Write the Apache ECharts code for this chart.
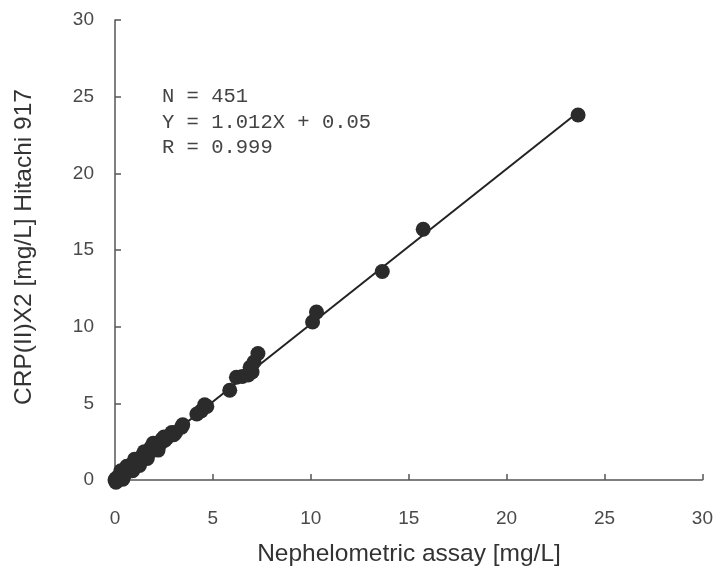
<!DOCTYPE html>
<html>
<head>
<meta charset="utf-8">
<script src="https://cdn.jsdelivr.net/npm/echarts@6/dist/echarts.min.js"></script>
<style>
html,body{margin:0;padding:0;background:#fff;}
#c{width:716px;height:570px;}
</style>
</head>
<body>
<div id="c"></div>
<script>
// Axis ticks
var xTicks = [0, 5, 10, 15, 20, 25, 30];
var yTicks = [0, 5, 10, 15, 20, 25, 30];

// Measured points [Nephelometric, CRP(II)X2]
var clusterLow = [
  [0.0,0.0],[0.05,0.1],[0.1,0.05],[0.15,0.2],[0.2,0.1],[0.25,0.3],[0.3,0.2],
  [0.35,0.4],[0.4,0.3],[0.45,0.55],[0.5,0.4],[0.55,0.65],[0.6,0.5],[0.65,0.75],
  [0.7,0.6],[0.75,0.85],[0.8,0.75],[0.85,1.0],[0.9,0.85],[0.95,1.1],[1.0,0.95],
  [1.05,1.2],[1.1,1.05],[1.15,1.3],[1.2,1.2],[1.3,1.45],[1.35,1.35],[1.4,1.6],
  [1.5,1.55],[1.55,1.8],[1.6,1.65],[1.7,1.9],[1.75,1.8],[1.85,2.15],[1.9,2.0],
  [2.0,2.25],[2.1,2.15],[2.2,2.4],[2.3,2.35],[2.5,2.8],[2.55,2.6],[2.65,2.75],
  [2.9,3.1],[3.0,2.95],[3.1,3.1],
  [0.3,0.6],[0.6,0.9],[0.9,0.6],[1.0,1.35],[1.25,0.95],[1.5,1.85],[1.65,1.4],
  [1.95,2.4],[2.2,1.95],[2.4,2.65],[0.05,-0.15],[0.4,0.05]
];
var clusterMid = [
  [3.4,3.45],[3.46,3.6],[4.18,4.3],[4.4,4.5],[4.58,4.9],[4.69,4.8]
];
var clusterHigh = [
  [5.86,5.85],[6.2,6.7],[6.5,6.75],[6.8,6.85],[7.0,7.05],[6.9,7.35],[7.1,7.7],[7.3,8.25],
  [10.09,10.3],[10.29,10.95],[13.65,13.6],[15.74,16.35],[23.65,23.8]
];
// Regression line end points (Y = 1.012X + 0.05)
var fitLine = [[0, 0.05], [23.65, 23.98]];
var statsText = ['N = 451', 'Y = 1.012X + 0.05', 'R = 0.999'];
var xTitle = 'Nephelometric assay [mg/L]';
var yTitle = 'CRP(II)X2 [mg/L] Hitachi 917';

var points = clusterLow.concat(clusterMid, clusterHigh);
var chart = echarts.init(document.getElementById('c'), null, {renderer:'canvas'});
var axisColor = '#555';
chart.setOption({
  animation: false,
  backgroundColor: '#fff',
  grid: {left: 115, right: 12, top: 20, bottom: 90, containLabel: false},
  xAxis: {
    type: 'value', min: xTicks[0], max: xTicks[xTicks.length-1], interval: 5,
    splitLine: {show: false},
    axisLine: {show: true, onZero: false, lineStyle: {color: axisColor, width: 1.5}},
    axisTick: {show: true, inside: true, length: 6, lineStyle: {color: axisColor, width: 1.5}},
    axisLabel: {color: '#4a4a4a', fontSize: 19, fontFamily: 'Liberation Sans', margin: 29}
  },
  yAxis: {
    type: 'value', min: yTicks[0], max: yTicks[yTicks.length-1], interval: 5,
    splitLine: {show: false},
    axisLine: {show: true, onZero: false, lineStyle: {color: axisColor, width: 1.5}},
    axisTick: {show: true, inside: true, length: 6, lineStyle: {color: axisColor, width: 1.5}},
    axisLabel: {color: '#4a4a4a', fontSize: 19, fontFamily: 'Liberation Sans', margin: 21}
  },
  graphic: [
    {type: 'text', x: 24, y: 247, rotation: Math.PI/2, z: 10,
     style: {text: yTitle, fill: '#333', font: '24.5px "Liberation Sans"', align: 'center', verticalAlign: 'middle'}},
    {type: 'text', x: 409, y: 554, z: 10,
     style: {text: xTitle, fill: '#333', font: '24.5px "Liberation Sans"', align: 'center', verticalAlign: 'middle'}},
    {type: 'text', x: 162, y: 84, z: 10,
     style: {text: statsText.join('\n'), fill: '#444', font: '20.5px "Liberation Mono"', lineHeight: 25.5}}
  ],
  series: [
    {type: 'line', data: fitLine, symbol: 'none', lineStyle: {color: '#222', width: 2}, z: 2, clip: false},
    {type: 'scatter', data: points, symbol: 'circle', symbolSize: 15, clip: false,
     itemStyle: {color: '#2b2b2b', opacity: 1}, z: 3}
  ]
});
</script>
</body>
</html>
